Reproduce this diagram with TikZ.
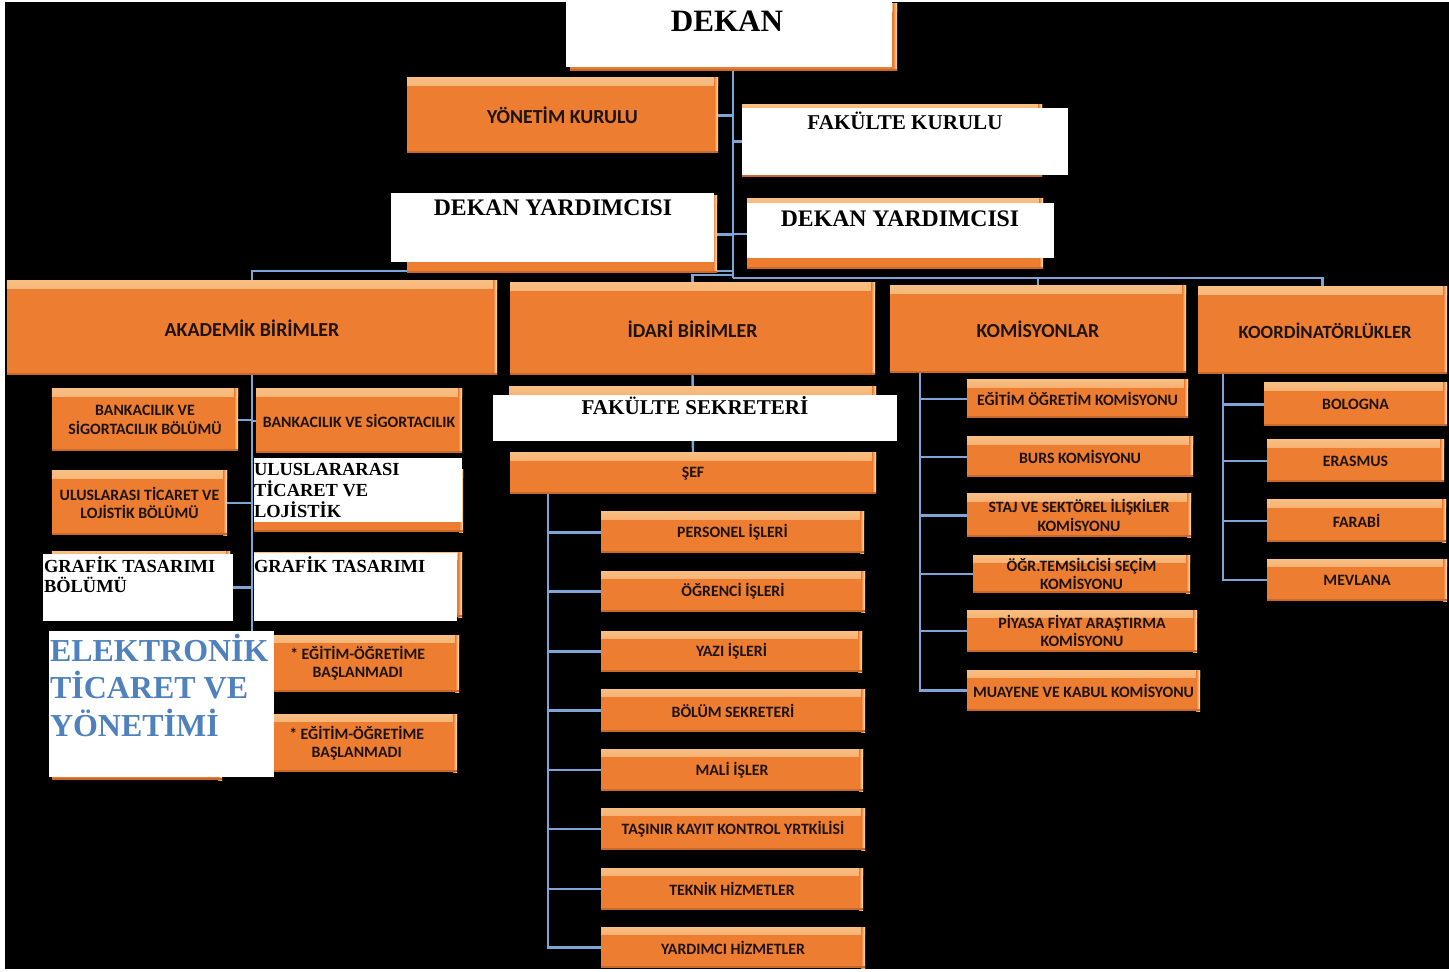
\documentclass[tikz,border=0pt]{standalone}
\usepackage{fontspec}
\setmainfont{Liberation Serif}
\newfontfamily\calfont{Carlito}
\definecolor{orng}{RGB}{237,125,49}
\definecolor{orngL}{RGB}{249,190,130}
\definecolor{orngR}{RGB}{253,230,190}
\definecolor{lnk}{RGB}{125,165,215}
\definecolor{txt}{RGB}{30,20,15}
\definecolor{elkblue}{RGB}{79,129,189}
\newcommand\ctr[1]{\makebox[0pt]{#1}}
\newcommand\mkBox[7][obox]{%
 \pgfmathsetmacro\bxcx{(#3+#5)/2}%
 \pgfmathsetmacro\bxcy{(#4+#6)/2}%
 \pgfmathsetmacro\bxw{(#5-#3)*0.02}%
 \pgfmathsetmacro\bxh{(#6-#4)*0.02}%
 \node[#1,minimum width=\bxw cm,minimum height=\bxh cm] (#2) at (\bxcx,\bxcy) {#7};}
\pgfdeclarelayer{back}
\pgfdeclarelayer{lines}
\pgfsetlayers{back,lines,main}
\tikzset{
 obox/.style={rectangle,inner sep=0pt,outer sep=0pt,fill=orng,text=txt,align=center,
   font=\calfont\bfseries\fontsize{9}{10.4}\selectfont,
   path picture={
     \fill[top color=orngL,bottom color=orng] (path picture bounding box.north west) rectangle ([yshift=-4.5pt]path picture bounding box.north east);
     \fill[left color=orng,right color=orngR] ([xshift=-2.2pt]path picture bounding box.north east) rectangle (path picture bounding box.south east);
     \fill[orng!85!black] (path picture bounding box.south west) rectangle ([yshift=1pt]path picture bounding box.south east);
   }},
 bigbox/.style={obox,font=\calfont\bfseries\fontsize{11.3}{13}\selectfont},
 wbox/.style={rectangle,inner sep=0pt,outer sep=0pt,fill=white},
 wt/.style={inner sep=0pt,outer sep=0pt,anchor=base,font=\bfseries\fontsize{12}{14}\selectfont},
 wl/.style={inner sep=0pt,outer sep=0pt,anchor=base west,font=\bfseries\fontsize{10.5}{12}\selectfont},
 conn/.style={draw=lnk,line width=1.4pt},
}
\begin{document}
\begin{tikzpicture}[x=0.02cm,y=-0.02cm]
\useasboundingbox (0,0) rectangle (1449,972);
\begin{pgfonlayer}{back}
\fill[white] (0,0) rectangle (1449,972);
\fill[black] (5,2) rectangle (1449,969);
\end{pgfonlayer}

% top level
\mkBox{dekO}{570}{4}{897}{71}{}
\mkBox[wbox]{dekW}{566}{2}{892}{67}{}
\node[wt,font=\bfseries\fontsize{17.7}{20}\selectfont] (dekT) at (727,32) {DEKAN};

\mkBox[bigbox]{yk}{407}{78}{718}{153}{\ctr{YÖNETİM KURULU}}

\mkBox{fkO}{742}{105}{1042}{177}{}
\mkBox[wbox]{fkW}{742}{108}{1068}{175}{}
\node[wt] (fkT) at (905,130) {FAKÜLTE KURULU};

\mkBox{dylO}{407}{196}{717}{273}{}
\mkBox[wbox]{dylW}{391}{193}{714}{262}{}
\node[wt,font=\bfseries\fontsize{13.5}{16}\selectfont] (dylT) at (553,216) {DEKAN YARDIMCISI};

\mkBox{dyrO}{747}{199}{1043}{269}{}
\mkBox[wbox]{dyrW}{747}{203}{1054}{258}{}
\node[wt,font=\bfseries\fontsize{13.5}{16}\selectfont] (dyrT) at (900,227) {DEKAN YARDIMCISI};

% second level
\mkBox[bigbox]{ak}{7}{281}{497}{375}{\ctr{AKADEMİK BİRİMLER}}
\mkBox[bigbox]{idari}{510}{283}{875}{375}{\ctr{İDARİ BİRİMLER}}
\mkBox[bigbox]{kom}{890}{286}{1186}{373}{\ctr{KOMİSYONLAR}}
\mkBox[bigbox,font=\calfont\bfseries\fontsize{10.6}{13}\selectfont]{koord}{1198}{287}{1447}{374}{\ctr{KOORDİNATÖRLÜKLER\hspace*{-3pt}}}

% akademik
\mkBox{bsL}{52}{389}{238}{451}{\ctr{BANKACILIK VE}\\\ctr{SİGORTACILIK BÖLÜMÜ}}
\mkBox{bsR}{256}{389}{462}{453}{\ctr{BANKACILIK VE SİGORTACILIK}}
\mkBox{utL}{52}{471}{227}{535}{\ctr{ULUSLARASI TİCARET VE}\\\ctr{LOJİSTİK BÖLÜMÜ}}
\mkBox{utRO}{254}{470}{463}{532}{}
\mkBox[wbox]{utRW}{253.5}{458}{462}{522}{}
\node[wl] (utRT1) at (254,476) {ULUSLARARASI};
\node[wl] (utRT2) at (254,497) {TİCARET VE};
\node[wl] (utRT3) at (254,518) {LOJİSTİK};
\mkBox{gtLO}{52}{551}{230}{618}{}
\mkBox[wbox]{gtLW}{43}{554}{233}{621}{}
\node[wl] (gtLT1) at (44,572) {GRAFİK TASARIMI};
\node[wl] (gtLT2) at (44,592) {BÖLÜMÜ};
\mkBox{gtRO}{254}{552}{462}{617}{}
\mkBox[wbox]{gtRW}{254}{553}{457}{621}{}
\node[wl] (gtRT) at (254,572) {GRAFİK TASARIMI};
\mkBox{elkO}{52}{700}{222}{780}{}
\mkBox[wbox]{elkW}{49}{631}{274}{777}{}
\node[wl,text=elkblue,font=\bfseries\fontsize{18.2}{21}\selectfont] (elkT1) at (50,661) {ELEKTRONİK};
\node[wl,text=elkblue,font=\bfseries\fontsize{18.2}{21}\selectfont] (elkT2) at (50,698) {TİCARET VE};
\node[wl,text=elkblue,font=\bfseries\fontsize{18.2}{21}\selectfont] (elkT3) at (50,736) {YÖNETİMİ};
\mkBox{eg1}{274}{635}{459}{692}{\ctr{* EĞİTİM-ÖĞRETİME\hspace*{10pt}}\\\ctr{BAŞLANMADI\hspace*{10pt}}}
\mkBox{eg2}{274}{714}{457}{772}{\ctr{* EĞİTİM-ÖĞRETİME\hspace*{10pt}}\\\ctr{BAŞLANMADI\hspace*{10pt}}}

% idari
\mkBox{fsO}{509}{387}{876}{440}{}
\mkBox[wbox]{fsW}{493}{395}{897}{441}{}
\node[wt] (fsT) at (695,415) {FAKÜLTE SEKRETERİ};
\mkBox{sef}{510}{453}{876}{494}{\ctr{ŞEF}}
\mkBox{pi}{601}{512}{864}{553}{\ctr{PERSONEL İŞLERİ}}
\mkBox{oi}{601}{571}{865}{612}{\ctr{ÖĞRENCİ İŞLERİ}}
\mkBox{yi}{601}{631}{862}{672}{\ctr{YAZI İŞLERİ}}
\mkBox{bs}{601}{689}{865}{732}{\ctr{BÖLÜM SEKRETERİ}}
\mkBox{mi}{601}{749}{863}{791}{\ctr{MALİ İŞLER}}
\mkBox{tk}{601}{808}{865}{850}{\ctr{TAŞINIR KAYIT KONTROL YRTKİLİSİ}}
\mkBox{th}{601}{868}{863}{910}{\ctr{TEKNİK HİZMETLER}}
\mkBox{yh}{601}{927}{865}{968}{\ctr{YARDIMCI HİZMETLER}}

% komisyonlar
\mkBox{k1}{967}{380}{1188}{418}{\ctr{EĞİTİM ÖĞRETİM KOMİSYONU}}
\mkBox{k2}{967}{437}{1193}{477}{\ctr{BURS KOMİSYONU}}
\mkBox{k3}{967}{494}{1191}{537}{\ctr{STAJ VE SEKTÖREL İLİŞKİLER}\\\ctr{KOMİSYONU}}
\mkBox{k4}{973}{555}{1190}{593}{\ctr{ÖĞR.TEMSİLCİSİ SEÇİM}\\\ctr{KOMİSYONU}}
\mkBox{k5}{967}{610}{1197}{652}{\ctr{PİYASA FİYAT ARAŞTIRMA}\\\ctr{KOMİSYONU}}
\mkBox{k6}{967}{670}{1200}{711}{\ctr{MUAYENE VE KABUL KOMİSYONU}}

% koordinatorlukler
\mkBox{c1}{1264}{383}{1447}{426}{\ctr{BOLOGNA}}
\mkBox{c2}{1267}{440}{1444}{482}{\ctr{ERASMUS}}
\mkBox{c3}{1267}{500}{1446}{542}{\ctr{FARABİ}}
\mkBox{c4}{1267}{559}{1447}{601}{\ctr{MEVLANA}}

\begin{pgfonlayer}{lines}
\coordinate (tr) at (733,68);
\coordinate (trb) at (733,278);
\coordinate (busA) at (733,271);
\coordinate (busB) at (733,275);
\draw[conn] (tr) -- (trb);
\draw[conn] (yk.east) -- (yk.east -| tr);
\draw[conn] (fkW.west) -- (fkW.west -| tr);
\draw[conn] (dylO.east) -- (dylO.east -| tr);
\draw[conn] (dyrO.west) -- (dyrO.west -| tr);
\draw[conn] (ak.north) |- (busA);
\draw[conn] (idari.north) |- (busB);
\draw[conn] (kom.north) |- (trb);
\draw[conn] (koord.north) |- (trb);
% akademik
\draw[conn] (ak.south) -- (ak.south |- elkW.north);
\draw[conn] (bsL.east) -- (bsL.east -| ak.south);
\draw[conn] (utL.east) -- (utL.east -| ak.south);
\draw[conn] (gtLW.east) -- (gtLW.east -| ak.south);
\draw[conn] (bsR.west) -- (bsR.west -| ak.south);
% idari
\draw[conn] (idari.south) -- (sef.north);
\coordinate (st) at (548,494);
\draw[conn] (st) |- (yh.west);
\foreach \n in {pi,oi,yi,bs,mi,tk,th} \draw[conn] (\n.west) -- (\n.west -| st);
% komisyonlar
\coordinate (kt) at (920,373);
\draw[conn] (kt) |- (k6.west);
\foreach \n in {k1,k2,k3,k4,k5} \draw[conn] (\n.west) -- (\n.west -| kt);
% koordinatorlukler
\coordinate (ct) at (1223,374);
\draw[conn] (ct) |- (c4.west);
\foreach \n in {c1,c2,c3} \draw[conn] (\n.west) -- (\n.west -| ct);
\end{pgfonlayer}
\end{tikzpicture}
\end{document}
